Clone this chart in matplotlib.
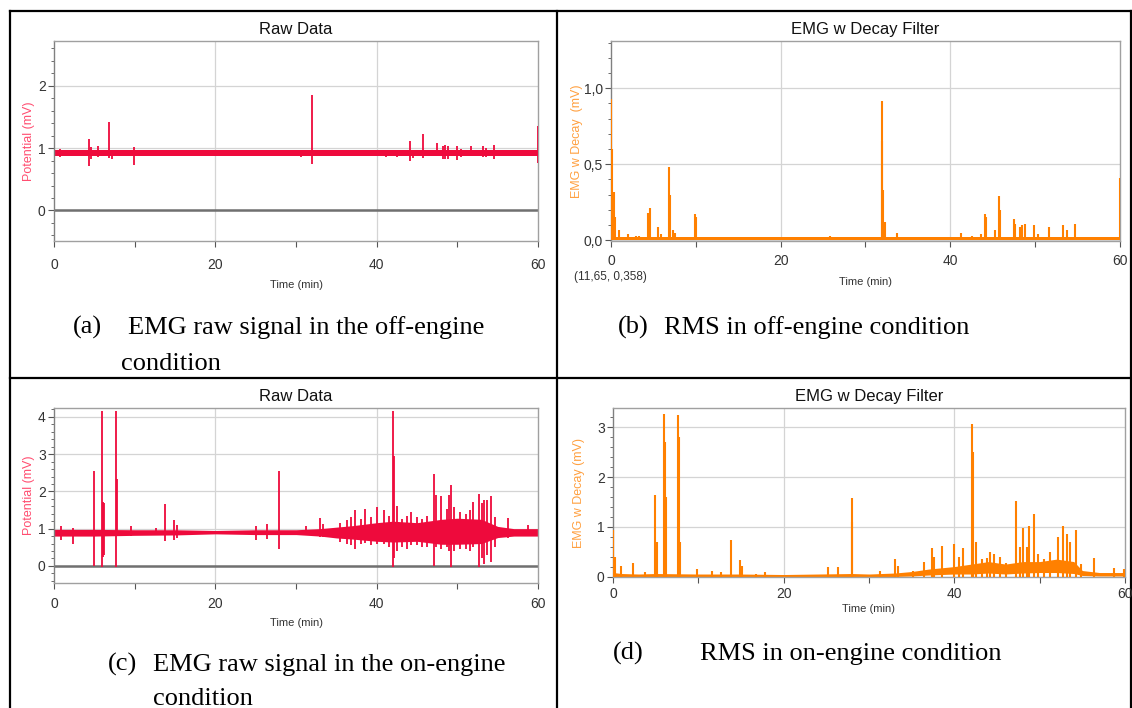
import numpy as np
import matplotlib
matplotlib.use("Agg")
from matplotlib import pyplot as plt
from matplotlib.ticker import MultipleLocator

# ---- data (time in min, values in mV) ----
# (a) raw signal, off-engine: spikes as (time, top, bottom)
a_spike_t = [0.8, 4.34, 4.6, 5.45, 6.78, 7.2, 9.88, 13.0, 21.3, 25.0, 30.6, 31.95, 33.5,
             41.1, 42.5, 44.1, 44.5, 45.7, 47.5, 48.2, 48.5, 48.9, 49.9, 50.5, 51.7,
             53.2, 53.6, 54.6, 59.95]
a_spike_hi = [0.99, 1.14, 1.02, 1.03, 1.42, 0.97, 1.02, 0.96, 0.96, 0.96, 0.96, 1.86, 0.97,
              0.95, 0.95, 1.11, 0.96, 1.22, 1.08, 1.04, 1.05, 1.04, 1.04, 0.98, 1.04,
              1.04, 1.0, 1.05, 1.35]
a_spike_lo = [0.86, 0.71, 0.82, 0.86, 0.84, 0.83, 0.73, 0.87, 0.87, 0.87, 0.86, 0.75, 0.87,
              0.86, 0.86, 0.8, 0.85, 0.84, 0.87, 0.82, 0.83, 0.82, 0.81, 0.86, 0.87,
              0.86, 0.86, 0.82, 0.76]
a_band_t = [0, 60]
a_band_lo = [0.88, 0.88]
a_band_hi = [0.97, 0.97]

# (b) RMS, off-engine: spikes as (time, top)
b_spike_t = [0.05, 0.15, 0.3, 0.5, 0.95, 2.06, 3.0, 3.3, 4.38, 4.55, 5.5, 5.9, 6.83, 7.0,
             7.3, 7.6, 9.93, 10.05, 13.1, 25.8, 28.3, 30.6, 31.93, 31.98, 32.1, 32.25,
             33.7, 41.25, 42.5, 43.6, 44.05, 44.2, 45.3, 45.7, 45.85, 47.5, 47.65, 48.2,
             48.45, 48.75, 49.85, 50.35, 51.65, 53.25, 53.7, 54.65, 59.95]
b_spike_hi = [0.93, 0.6, 0.32, 0.15, 0.07, 0.04, 0.03, 0.03, 0.18, 0.21, 0.09, 0.04, 0.48, 0.3,
              0.07, 0.05, 0.17, 0.15, 0.02, 0.03, 0.02, 0.02, 0.915, 0.65, 0.33, 0.12,
              0.05, 0.05, 0.03, 0.04, 0.17, 0.15, 0.07, 0.29, 0.2, 0.14, 0.11, 0.09,
              0.1, 0.11, 0.1, 0.04, 0.09, 0.1, 0.07, 0.11, 0.41]
b_band_t = [0, 60]
b_band_lo = [0.0, 0.0]
b_band_hi = [0.02, 0.02]

# (c) raw signal, on-engine
c_spike_t = [0.9, 2.3, 4.92, 5.99, 6.1, 6.2, 7.72, 7.85, 9.6, 12.6, 13.8, 14.9, 15.2, 25.05,
             26.4, 27.94, 31.26, 32.95, 33.4, 35.5, 36.27, 36.8, 37.3, 38.0, 38.6, 39.3,
             40.04, 40.93, 41.5, 42.04, 42.15, 42.5, 43.2, 43.7, 44.26, 45.0, 45.6, 46.3,
             47.05, 47.3, 48.0, 48.7, 48.95, 49.2, 49.6, 50.3, 51.1, 51.6, 52.0, 52.7,
             53.0, 53.35, 53.7, 54.2, 54.7, 56.3, 58.7]
c_spike_hi = [1.08, 1.02, 2.56, 4.17, 1.72, 1.7, 4.17, 2.32, 1.08, 1.02, 1.67, 1.24, 1.1, 1.07,
              1.12, 2.54, 1.07, 1.29, 1.13, 1.15, 1.22, 1.3, 1.51, 1.25, 1.54, 1.3,
              1.58, 1.49, 1.35, 4.17, 2.95, 1.62, 1.26, 1.35, 1.45, 1.3, 1.25, 1.35,
              2.47, 1.9, 1.89, 1.54, 1.9, 2.18, 1.58, 1.45, 1.4, 1.5, 1.71, 1.94,
              1.7, 1.78, 1.76, 1.89, 1.3, 1.29, 1.1]
c_spike_lo = [0.7, 0.6, 0.0, -0.02, 0.25, 0.3, -0.02, 0.8, 0.8, 0.82, 0.66, 0.7, 0.75, 0.69,
              0.73, 0.46, 0.85, 0.78, 0.78, 0.65, 0.6, 0.55, 0.44, 0.6, 0.62, 0.55,
              0.6, 0.58, 0.5, -0.02, 0.2, 0.4, 0.5, 0.45, 0.55, 0.55, 0.5, 0.5,
              0.0, 0.5, 0.45, 0.5, 0.4, -0.02, 0.4, 0.45, 0.45, 0.4, 0.5, -0.02,
              0.2, 0.05, 0.3, 0.1, 0.5, 0.75, 0.8]
c_band_t = [0, 5, 10, 15, 20, 25, 30, 33, 35, 37, 40, 42, 45, 48, 50, 53, 55, 57, 60]
c_band_lo = [0.8, 0.8, 0.82, 0.83, 0.86, 0.84, 0.84, 0.8, 0.75, 0.72, 0.66, 0.64, 0.66, 0.58,
             0.58, 0.6, 0.76, 0.8, 0.8]
c_band_hi = [0.98, 0.98, 0.97, 0.97, 0.95, 0.97, 0.97, 1.0, 1.04, 1.08, 1.16, 1.2, 1.16, 1.25,
             1.28, 1.25, 1.06, 1.0, 1.0]

# (d) RMS, on-engine
d_spike_t = [0.05, 0.2, 0.95, 2.3, 3.7, 4.96, 5.1, 5.94, 6.05, 6.2, 7.65, 7.75, 7.9, 9.8,
             11.6, 12.6, 13.8, 14.9, 15.1, 16.8, 17.8, 25.2, 26.4, 27.95, 28.05, 31.3,
             33.0, 33.4, 35.2, 36.4, 37.35, 37.6, 38.6, 40.0, 40.55, 41.0, 42.1, 42.2,
             42.56, 43.3, 43.8, 44.2, 44.6, 45.3, 46.0, 47.2, 47.7, 48.0, 48.5, 48.8,
             49.3, 49.8, 50.5, 51.2, 52.1, 52.7, 53.2, 53.5, 54.2, 54.8, 56.4, 58.7, 59.9]
d_spike_hi = [0.93, 0.4, 0.22, 0.28, 0.1, 1.63, 0.7, 3.26, 2.7, 1.6, 3.25, 2.8, 0.7, 0.15,
              0.12, 0.1, 0.74, 0.33, 0.22, 0.06, 0.1, 0.2, 0.2, 1.57, 1.1, 0.12,
              0.36, 0.22, 0.12, 0.29, 0.58, 0.4, 0.61, 0.65, 0.4, 0.57, 3.07, 2.5,
              0.7, 0.35, 0.38, 0.5, 0.45, 0.4, 0.28, 1.52, 0.6, 0.97, 0.6, 1.01,
              1.25, 0.45, 0.35, 0.5, 0.8, 1.02, 0.85, 0.7, 0.93, 0.25, 0.37, 0.17, 0.15]
d_band_t = [0, 1, 3, 5, 10, 15, 20, 24, 28, 30, 33, 35, 37, 40, 42, 44, 46, 48, 50, 52,
            54, 55, 57, 60]
d_band_lo = [0.0, 0.0, 0.0, 0.0, 0.0, 0.0, 0.0, 0.0, 0.0, 0.0, 0.0, 0.01, 0.03, 0.05, 0.05,
             0.07, 0.05, 0.07, 0.08, 0.08, 0.06, 0.02, 0.01, 0.01]
d_band_hi = [0.08, 0.06, 0.05, 0.06, 0.05, 0.05, 0.04, 0.05, 0.06, 0.05, 0.07, 0.1, 0.15,
             0.2, 0.25, 0.3, 0.25, 0.3, 0.3, 0.35, 0.3, 0.12, 0.08, 0.08]

x_ticks = [0, 10, 20, 30, 40, 50, 60]
x_ticklabels = ["0", "", "20", "", "40", "", "60"]

captions = {
    "a": ["(a)", "EMG raw signal in the off-engine", "condition"],
    "b": ["(b)", "RMS in off-engine condition"],
    "c": ["(c)", "EMG raw signal in the on-engine", "condition"],
    "d": ["(d)", "RMS in on-engine condition"],
}

RED = "#ee0a3c"
ORANGE = "#ff8000"
NARROW = ["Liberation Sans Narrow", "Liberation Sans", "DejaVu Sans"]
SERIF = ["Liberation Serif", "DejaVu Serif"]
SANS = ["Liberation Sans", "DejaVu Sans"]

W, H = 1132, 708
fig = plt.figure(figsize=(W / 100, H / 100), dpi=100)


def px_axes(l, t, r, b):
    return fig.add_axes([l / W, 1 - b / H, (r - l) / W, (b - t) / H])


def style(ax, ylim, major, minor, fmt, title, ylabel, lcolor, lab_x, xpad, tpad):
    ax.set_xlim(0, 60)
    ax.set_ylim(*ylim)
    ax.set_xticks(x_ticks)
    ax.set_xticklabels(x_ticklabels)
    ax.yaxis.set_major_locator(MultipleLocator(major))
    ax.yaxis.set_minor_locator(MultipleLocator(minor))
    ax.yaxis.set_major_formatter(plt.FuncFormatter(fmt))
    ax.tick_params(axis="both", which="major", length=4, width=0.8, color="#555555",
                   labelsize=10, labelcolor="#333333", pad=2)
    ax.tick_params(axis="x", pad=xpad)
    ax.tick_params(axis="y", which="minor", length=2, width=0.6, color="#555555")
    for lab in ax.get_xticklabels() + ax.get_yticklabels():
        lab.set_family(NARROW)
    for s in ax.spines.values():
        s.set_color("#a0a0a0")
        s.set_linewidth(1.0)
    ax.spines["left"].set_color("#808080")
    ax.set_axisbelow(True)
    for v in [20, 40]:
        ax.axvline(v, color="#d4d4d4", lw=0.9, zorder=0)
    ax.yaxis.grid(True, color="#d4d4d4", lw=0.9)
    ax.set_title(title, family=NARROW, fontsize=12, color="#111111", pad=5)
    ax.set_xlabel("Time (min)", family=NARROW, fontsize=8, color="#333333", labelpad=tpad)
    ax.set_ylabel(ylabel, family=SANS, fontsize=9, color=lcolor)
    ax.yaxis.set_label_coords(lab_x, 0.5)


def comma(v, pos):
    return ("%.1f" % v).replace(".", ",")


def integer(v, pos):
    return "%d" % round(v)


# panel (a)
ax1 = px_axes(54, 41, 538, 241)
style(ax1, (-0.49, 2.72), 1, 0.2, integer, "Raw Data", "Potential (mV)", "#ff4d70",
      (35 - 54) / 484, 8, 6)
ax1.axhline(0, color="#707070", lw=1.8, zorder=1)
ax1.fill_between(a_band_t, a_band_lo, a_band_hi, color=RED, lw=0, zorder=2)
ax1.vlines(a_spike_t, a_spike_lo, a_spike_hi, color=RED, lw=1.3, zorder=3)

# panel (b)
ax2 = px_axes(611, 41, 1120, 241)
style(ax2, (-0.005, 1.31), 0.5, 0.1, comma, "EMG w Decay Filter", "EMG w Decay  (mV)",
      "#ffa040", (583 - 611) / 509, 5, 7)
ax2.fill_between(b_band_t, b_band_lo, b_band_hi, color=ORANGE, lw=0, zorder=2)
ax2.vlines(b_spike_t, 0, b_spike_hi, color=ORANGE, lw=1.5, zorder=3)
ax2.text(-0.072, -0.18, "(11,65, 0,358)", transform=ax2.transAxes, family=NARROW,
         fontsize=8.5, color="#333333", ha="left", va="center")

# panel (c)
ax3 = px_axes(54, 408, 538, 583)
style(ax3, (-0.46, 4.24), 1, 0.2, integer, "Raw Data", "Potential (mV)", "#ff4d70",
      (35 - 54) / 484, 6, 5)
ax3.axhline(0, color="#707070", lw=1.8, zorder=1)
ax3.fill_between(c_band_t, c_band_lo, c_band_hi, color=RED, lw=0, zorder=2)
ax3.vlines(c_spike_t, c_spike_lo, c_spike_hi, color=RED, lw=1.3, zorder=3)

# panel (d)
ax4 = px_axes(613, 408, 1125, 577)
style(ax4, (-0.01, 3.39), 1, 0.2, integer, "EMG w Decay Filter", "EMG w Decay (mV)",
      "#ffa040", (585 - 613) / 512, 3, 2)
ax4.fill_between(d_band_t, d_band_lo, d_band_hi, color=ORANGE, lw=0, zorder=2)
ax4.vlines(d_spike_t, 0, d_spike_hi, color=ORANGE, lw=1.5, zorder=3)

# table frame around the four cells
frame = fig.add_axes([0, 0, 1, 1], zorder=-1)
frame.set_xlim(0, W)
frame.set_ylim(H, 0)
frame.axis("off")
lk = dict(color="black", lw=1.6)
frame.plot([10, 1131], [11, 11], **lk)
frame.plot([10, 10], [11, 708], **lk)
frame.plot([1131, 1131], [11, 708], **lk)
frame.plot([557, 557], [11, 708], **lk)
frame.plot([10, 1131], [378, 378], **lk)

# captions
cap = dict(family=SERIF, fontsize=19, color="black", va="baseline", ha="left")
frame.text(73, 334, captions["a"][0], **cap)
frame.text(128, 334, captions["a"][1], **cap)
frame.text(121, 370, captions["a"][2], **cap)
frame.text(618, 334, captions["b"][0], **cap)
frame.text(664, 334, captions["b"][1], **cap)
frame.text(108, 671, captions["c"][0], **cap)
frame.text(153, 671, captions["c"][1], **cap)
frame.text(153, 705, captions["c"][2], **cap)
frame.text(613, 660, captions["d"][0], **cap)
frame.text(700, 660, captions["d"][1], **cap)

fig.savefig("out.png", dpi=100)
